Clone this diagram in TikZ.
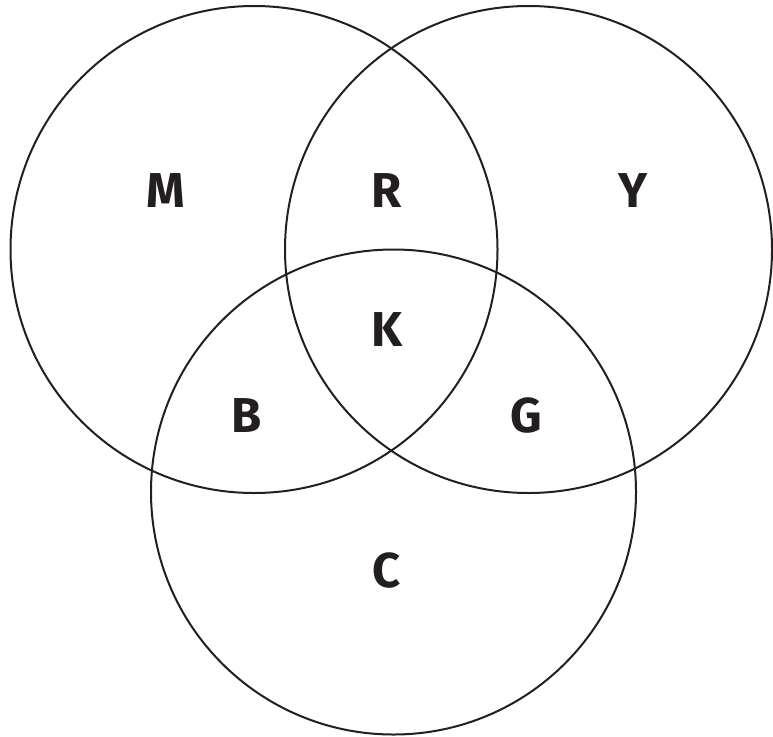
\documentclass[tikz,border=0pt]{standalone}
\usepackage{fontspec}
\setmainfont{Fira Sans}
\definecolor{ink}{HTML}{231F20}
\begin{document}
\begin{tikzpicture}[x=1pt,y=-1pt,
  ring/.style={draw=ink,line width=2pt},
  lbl/.style={anchor=base,inner sep=0pt,text=ink,font=\fontsize{49}{49}\selectfont\bfseries}]
\useasboundingbox (0,0) rectangle (773,736);
\draw[ring] (254,249.5) circle[radius=243.5];
\draw[ring] (528.5,249.5) circle[radius=243.5];
\draw[ring] (393.5,492) circle[radius=242.5];
\node[lbl] (m) at (166,207) {M};
\node[lbl] (r) at (387,207) {R};
\node[lbl] (y) at (633,207) {Y};
\node[lbl] (k) at (387,346) {K};
\node[lbl] (b) at (247,432) {B};
\node[lbl] (g) at (526,432) {G};
\node[lbl] (c) at (387,587) {C};
\end{tikzpicture}
\end{document}
